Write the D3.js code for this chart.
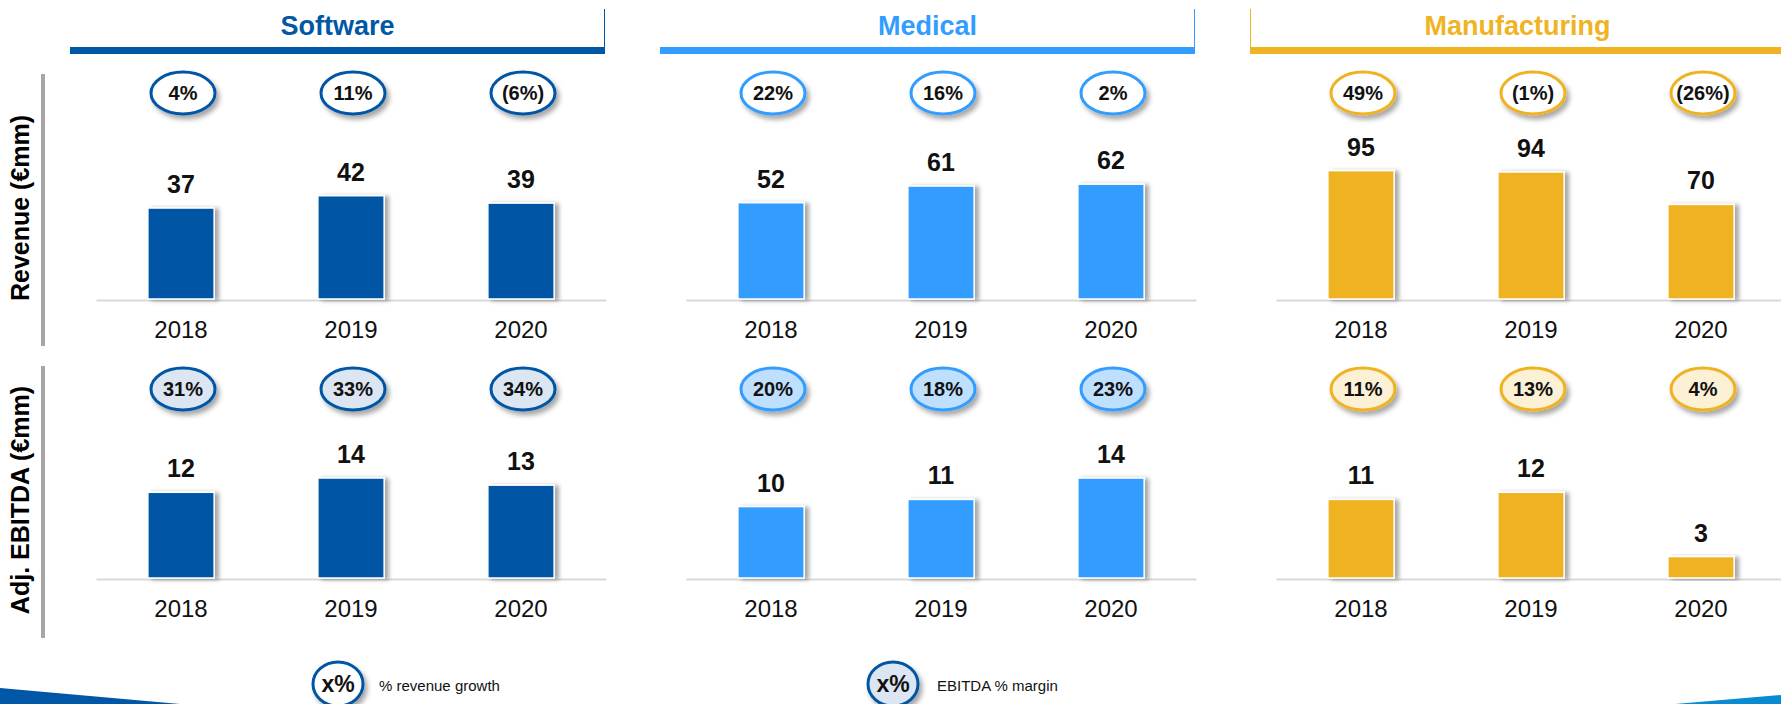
<!DOCTYPE html>
<html>
<head>
<meta charset="utf-8">
<script src="https://cdn.jsdelivr.net/npm/d3@7"></script>
<style>
  body { margin: 0; background: #fff; }
  svg { display: block; font-family: "Liberation Sans", Arial, sans-serif; }
</style>
</head>
<body>
<div id="chart-area"></div>
<script>
// data
var segments = ["Software", "Medical", "Manufacturing"];
var years = ["2018", "2019", "2020"];
var revenue = [[37, 42, 39], [52, 61, 62], [95, 94, 70]];
var revenueGrowth = [["4%", "11%", "(6%)"], ["22%", "16%", "2%"], ["49%", "(1%)", "(26%)"]];
var ebitda = [[12, 14, 13], [10, 11, 14], [11, 12, 3]];
var ebitdaMargin = [["31%", "33%", "34%"], ["20%", "18%", "23%"], ["11%", "13%", "4%"]];
var rowTitles = ["Revenue (€mm)", "Adj. EBITDA (€mm)"];
var legendItems = ["% revenue growth", "EBITDA % margin"];

var width = 1781;
var height = 704;

var colors = ["#0057a4", "#339dff", "#efb323"];
var lightFills = ["#dce6f2", "#bfdfff", "#fcf0d5"];
// axis max per panel (revenue scale differs, EBITDA shared)
var revenueMax = [61, 81, 111];
var ebitdaMax = [21, 21, 21];

var svg = d3.select("#chart-area")
  .append("svg")
    .attr("width", width)
    .attr("height", height);

var defs = svg.append("defs");
defs.append("filter")
    .attr("id", "ovalShadow")
    .attr("x", "-30%").attr("y", "-30%")
    .attr("width", "170%").attr("height", "190%")
  .append("feDropShadow")
    .attr("dx", 3).attr("dy", 4)
    .attr("stdDeviation", 2.5)
    .attr("flood-color", "#000")
    .attr("flood-opacity", 0.35);
defs.append("filter")
    .attr("id", "barShadow")
    .attr("x", "-20%").attr("y", "-10%")
    .attr("width", "150%").attr("height", "120%")
  .append("feDropShadow")
    .attr("dx", 4).attr("dy", 1)
    .attr("stdDeviation", 2)
    .attr("flood-color", "#000")
    .attr("flood-opacity", 0.35);

var rows = [
  {values: revenue, labels: revenueGrowth, max: revenueMax, base: 299, ovalY: 93, barTop: 74, barBottom: 346, filled: false},
  {values: ebitda, labels: ebitdaMargin, max: ebitdaMax, base: 578, ovalY: 389, barTop: 366, barBottom: 638, filled: true}
];
var plotH = 150;

// row titles on the left with grey rule
rows.forEach(function(row, r) {
  svg.append("rect")
    .attr("x", 41)
    .attr("y", row.barTop)
    .attr("width", 4)
    .attr("height", row.barBottom - row.barTop)
    .attr("fill", "#a6a6a6");
  var cy = (row.barTop + row.barBottom) / 2 - 2;
  svg.append("text")
    .attr("transform", "translate(20," + cy + ") rotate(-90)")
    .attr("text-anchor", "middle")
    .attr("dominant-baseline", "central")
    .attr("font-size", "25px")
    .attr("font-weight", "bold")
    .attr("fill", "#000")
    .text(rowTitles[r]);
});

segments.forEach(function(seg, i) {
  var x0 = 181 + 590 * i;
  var g = svg.append("g");

  // header
  var hx = x0 - 111, hw = 535;
  g.append("rect")
    .attr("x", hx).attr("y", 47)
    .attr("width", hw).attr("height", 7)
    .attr("fill", colors[i]);
  var vx = i < 2 ? hx + hw - 0.5 : hx + 0.5;
  g.append("line")
    .attr("x1", vx).attr("x2", vx)
    .attr("y1", 9).attr("y2", 47)
    .attr("stroke", colors[i])
    .attr("stroke-width", 1);
  g.append("text")
    .attr("x", hx + hw / 2)
    .attr("y", 35)
    .attr("text-anchor", "middle")
    .attr("font-size", "27px")
    .attr("font-weight", "bold")
    .attr("fill", colors[i])
    .text(seg);

  var x = d3.scaleBand()
    .domain(years)
    .range([x0 - 85, x0 + 425])
    .paddingInner(0.61)
    .paddingOuter(0.305);

  rows.forEach(function(row) {
    var y = d3.scaleLinear()
      .domain([0, row.max[i]])
      .range([row.base, row.base - plotH]);

    var vals = row.values[i].map(function(v, j) { return {year: years[j], value: v, label: row.labels[i][j]}; });

    // axis with year labels
    var axis = d3.axisBottom(x).tickSize(0).tickSizeOuter(0).tickPadding(21);
    var ax = g.append("g")
      .attr("transform", "translate(0," + (row.base + 1) + ")")
      .call(axis);
    ax.select(".domain").attr("stroke", "#d9d9d9").attr("stroke-width", 2);
    ax.selectAll(".tick text")
      .attr("font-size", "24px")
      .attr("font-family", "'Liberation Sans', Arial, sans-serif")
      .attr("fill", "#111");

    // bars
    g.selectAll(null)
      .data(vals)
      .enter().append("rect")
        .attr("x", function(d) { return x(d.year); })
        .attr("y", function(d) { return y(d.value); })
        .attr("width", x.bandwidth())
        .attr("height", function(d) { return row.base - y(d.value); })
        .attr("fill", colors[i])
        .attr("stroke", "#fff")
        .attr("stroke-width", 1.5)
        .attr("filter", "url(#barShadow)");

    // value labels
    g.selectAll(null)
      .data(vals)
      .enter().append("text")
        .attr("x", function(d) { return x(d.year) + x.bandwidth() / 2; })
        .attr("y", function(d) { return y(d.value) - 15; })
        .attr("text-anchor", "middle")
        .attr("font-size", "25px")
        .attr("font-weight", "bold")
        .attr("fill", "#111")
        .text(function(d) { return d.value; });

    // ovals
    var ov = g.selectAll(null)
      .data(vals)
      .enter().append("g")
        .attr("transform", function(d) { return "translate(" + (x(d.year) + x.bandwidth() / 2 + 2) + "," + row.ovalY + ")"; });
    ov.append("ellipse")
      .attr("rx", 32).attr("ry", 21)
      .attr("fill", row.filled ? lightFills[i] : "#fff")
      .attr("stroke", colors[i])
      .attr("stroke-width", 3)
      .attr("filter", "url(#ovalShadow)");
    ov.append("text")
      .attr("text-anchor", "middle")
      .attr("dominant-baseline", "central")
      .attr("font-size", "20px")
      .attr("font-weight", "bold")
      .attr("fill", "#111")
      .text(function(d) { return d.label; });
  });
});

// legend
var legendX = [338, 893];
legendItems.forEach(function(txt, k) {
  var lg = svg.append("g").attr("transform", "translate(" + legendX[k] + ",684)");
  lg.append("ellipse")
    .attr("rx", 25).attr("ry", 22)
    .attr("fill", k === 0 ? "#fff" : lightFills[0])
    .attr("stroke", colors[0])
    .attr("stroke-width", 3)
    .attr("filter", "url(#ovalShadow)");
  lg.append("text")
    .attr("text-anchor", "middle")
    .attr("dominant-baseline", "central")
    .attr("font-size", "23px")
    .attr("font-weight", "bold")
    .attr("fill", "#111")
    .text("x%");
  lg.append("text")
    .attr("x", k === 0 ? 41 : 44)
    .attr("y", 1)
    .attr("dominant-baseline", "central")
    .attr("font-size", "15px")
    .attr("fill", "#111")
    .text(txt);
});

// corner swooshes
svg.append("polygon")
  .attr("points", "0,688 180,704 0,704")
  .attr("fill", "#0057a6");
svg.append("polygon")
  .attr("points", "1675,704 1781,695 1781,704")
  .attr("fill", "#0a8ad0");
</script>
</body>
</html>
